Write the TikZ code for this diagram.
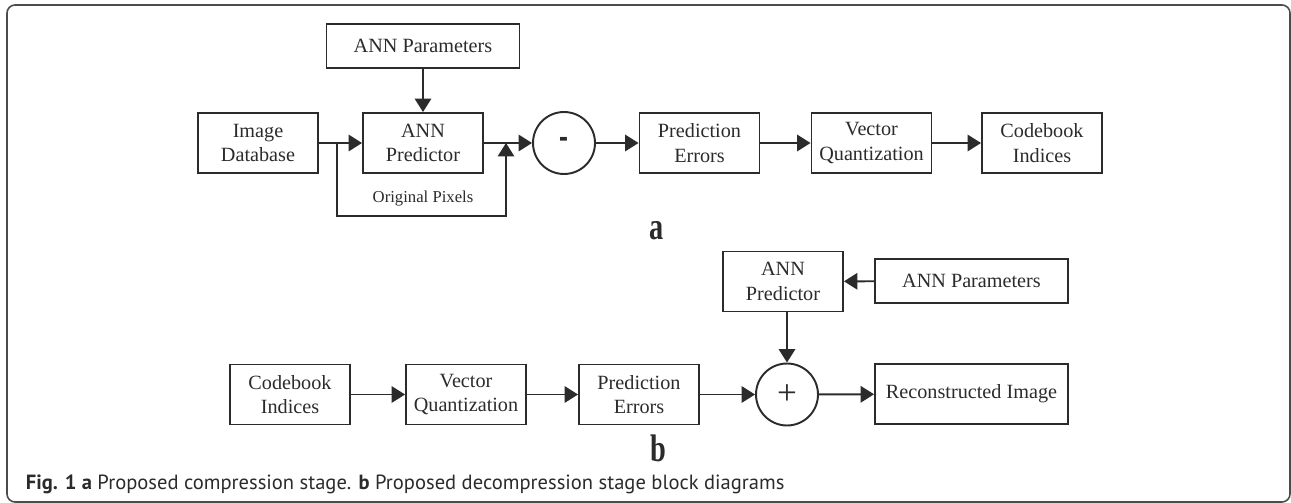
\documentclass[tikz,border=0pt]{standalone}
\usepackage{fontspec}
\setmainfont{Liberation Serif}
\newfontfamily\capfont{PT Sans}
\usepackage{graphicx}
\usetikzlibrary{arrows.meta}
\definecolor{ink}{HTML}{2B2B2B}

\begin{document}
\begin{tikzpicture}[x=0.02cm,y=-0.02cm,>={Triangle[length=0.27cm,width=0.33cm]},
  line width=1.1pt, color=ink,
  blk/.style={draw, rectangle, minimum width=2.4cm, minimum height=1.2cm,
    inner sep=0pt, align=center, font=\fontsize{11.5}{13.8}\selectfont},
  wideblk/.style={blk, minimum width=3.86cm},
  sumnode/.style={draw, circle, minimum size=1.24cm, inner sep=0pt},
  tag/.style={inner sep=0pt, font=\fontsize{19}{19}\selectfont\bfseries}]
  \useasboundingbox (0,0) rectangle (1291,503);
  % frame
  \draw[line width=0.9pt, black!70, rounded corners=0.16cm] (7,5) rectangle (1290,502);
  % compression stage
  \node[wideblk, minimum height=0.88cm] (annpar) at (423,46) {ANN Parameters};
  \node[blk] (imgdb) at (258,143) {Image\\Database};
  \node[blk] (annpred) at (423,143) {ANN\\Predictor};
  \node[sumnode, font=\fontsize{19}{19}\selectfont\bfseries] (minus) at (564,143) {\scalebox{0.8}[1.3]{-}};
  \node[blk] (prederr) at (699.5,143) {Prediction\\Errors};
  \node[blk] (vecq) at (871.5,143) {Vector\\Quantization};
  \node[blk] (cbidx) at (1042,143) {Codebook\\Indices};
  \coordinate (split) at (337,143);
  \coordinate (merge) at (506,143);
  \draw[->] (imgdb) -- (annpred);
  \draw[->] (annpar) -- (annpred);
  \draw (annpred) -- (merge);
  \draw[->] (merge) -- (minus);
  \draw[->] (split) -- ++(0,73) -| (merge);
  \node[font=\fontsize{9.5}{11}\selectfont] (origpix) at (423,199) {Original Pixels};
  \draw[->] (minus) -- (prederr);
  \draw[->] (prederr) -- (vecq);
  \draw[->] (vecq) -- (cbidx);
  \node[tag] (taga) at (657,231) {\scalebox{0.85}[1.15]{a}};
  % decompression stage
  \node[blk] (cbidx2) at (290,394.5) {Codebook\\Indices};
  \node[blk] (vecq2) at (466,394.5) {Vector\\Quantization};
  \node[blk] (prederr2) at (639,394.5) {Prediction\\Errors};
  \node[sumnode, font=\fontsize{20}{20}\selectfont] (plus) at (787,394.5) {+};
  \node[wideblk] (recon) at (971.5,394) {Reconstructed Image};
  \node[blk] (annpred2) at (783,281.5) {ANN\\Predictor};
  \node[wideblk, minimum height=0.88cm] (annpar2) at (971.5,281) {ANN Parameters};
  \draw[->] (cbidx2) -- (vecq2);
  \draw[->] (vecq2) -- (prederr2);
  \draw[->] (prederr2) -- (plus);
  \draw[->] (plus) -- (recon);
  \draw[->] (annpar2) -- (annpred2);
  \draw[->] (annpred2.south -| plus) -- (plus);
  \node[tag] (tagb) at (658.5,448) {\scalebox{0.85}[1.15]{b}};
  % caption
  \node[anchor=base west, inner sep=0pt, font=\capfont\fontsize{11.7}{14}\selectfont]
    (caption) at (25,489) {\textbf{Fig. 1 a} Proposed compression stage. \textbf{b} Proposed decompression stage block diagrams};
\end{tikzpicture}
\end{document}
